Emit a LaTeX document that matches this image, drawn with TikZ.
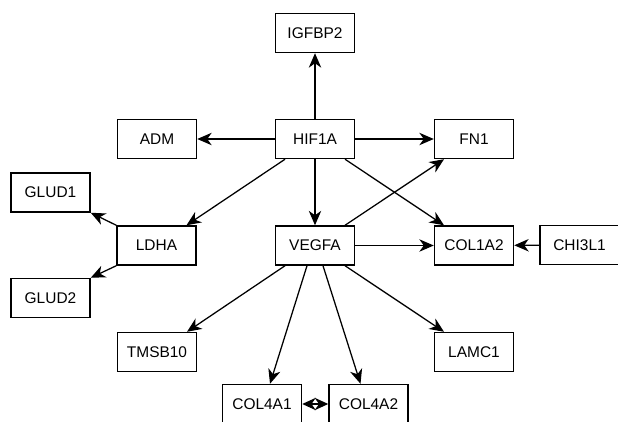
\documentclass[tikz,border=0pt]{standalone}
\usepackage{fontspec}
\setmainfont{Liberation Sans}
\usetikzlibrary{positioning}
\usetikzlibrary{arrows.meta}

\begin{document}
\begin{tikzpicture}[x=0.025cm,y=-0.025cm,
  gene/.style={draw, line width=0.9pt, shape=rectangle, inner sep=0pt,
    minimum width=1.98cm, minimum height=0.98cm,
    font=\fontsize{11pt}{13pt}\selectfont},
  link/.style={line width=0.9pt, -{Stealth[length=0.36cm,width=0.31cm,inset=0.11cm]}},
  twolink/.style={line width=0.9pt, {Stealth[length=0.34cm,width=0.31cm,inset=0.11cm]}-{Stealth[length=0.34cm,width=0.31cm,inset=0.11cm]}}]
\clip (0,0) rectangle (618,421);

\node[gene] (IGFBP2) at (315,33) {IGFBP2};
\node[gene] (ADM) at (157,139) {ADM};
\node[gene] (HIF1A) at (315,139) {HIF1A};
\node[gene] (FN1) at (474,139) {FN1};
\node[gene] (GLUD1) at (50.5,192.5) {GLUD1};
\node[gene] (LDHA) at (156.5,245.5) {LDHA};
\node[gene] (VEGFA) at (315,245.5) {VEGFA};
\node[gene] (COL1A2) at (474,245.5) {COL1A2};
\node[gene] (CHI3L1) at (579.5,245) {CHI3L1};
\node[gene] (GLUD2) at (50.5,298) {GLUD2};
\node[gene] (TMSB10) at (157,352) {TMSB10};
\node[gene] (LAMC1) at (474,352) {LAMC1};
\node[gene] (COL4A1) at (262,404) {COL4A1};
\node[gene] (COL4A2) at (368.5,404) {COL4A2};

% HIF1A targets
\draw[link] (HIF1A) -- (IGFBP2);
\draw[link] (HIF1A) -- (ADM);
\draw[link] (HIF1A) -- (FN1);
\draw[link] (HIF1A) -- (VEGFA);
\draw[link] ([xshift=-0.75cm]HIF1A.south) -- ([xshift=0.75cm]LDHA.north);
\draw[link] ([xshift=0.75cm]HIF1A.south) -- ([xshift=-0.75cm]COL1A2.north);

% VEGFA targets
\draw[link] ([xshift=0.75cm]VEGFA.north) -- ([xshift=-0.75cm]FN1.south);
\draw[link] (VEGFA) -- (COL1A2);
\draw[link] ([xshift=-0.75cm]VEGFA.south) -- ([xshift=0.75cm]TMSB10.north);
\draw[link] ([xshift=0.75cm]VEGFA.south) -- ([xshift=-0.75cm]LAMC1.north);
\draw[link] ([xshift=-0.2cm]VEGFA.south) -- ([xshift=0.2cm]COL4A1.north);
\draw[link] ([xshift=0.2cm]VEGFA.south) -- ([xshift=-0.2cm]COL4A2.north);

\draw[link] (CHI3L1) -- (COL1A2);
\draw[link] (LDHA.north west) -- (GLUD1.south east);
\draw[link] (LDHA.south west) -- (GLUD2.north east);
\draw[twolink] (COL4A1) -- (COL4A2);

\end{tikzpicture}
\end{document}
